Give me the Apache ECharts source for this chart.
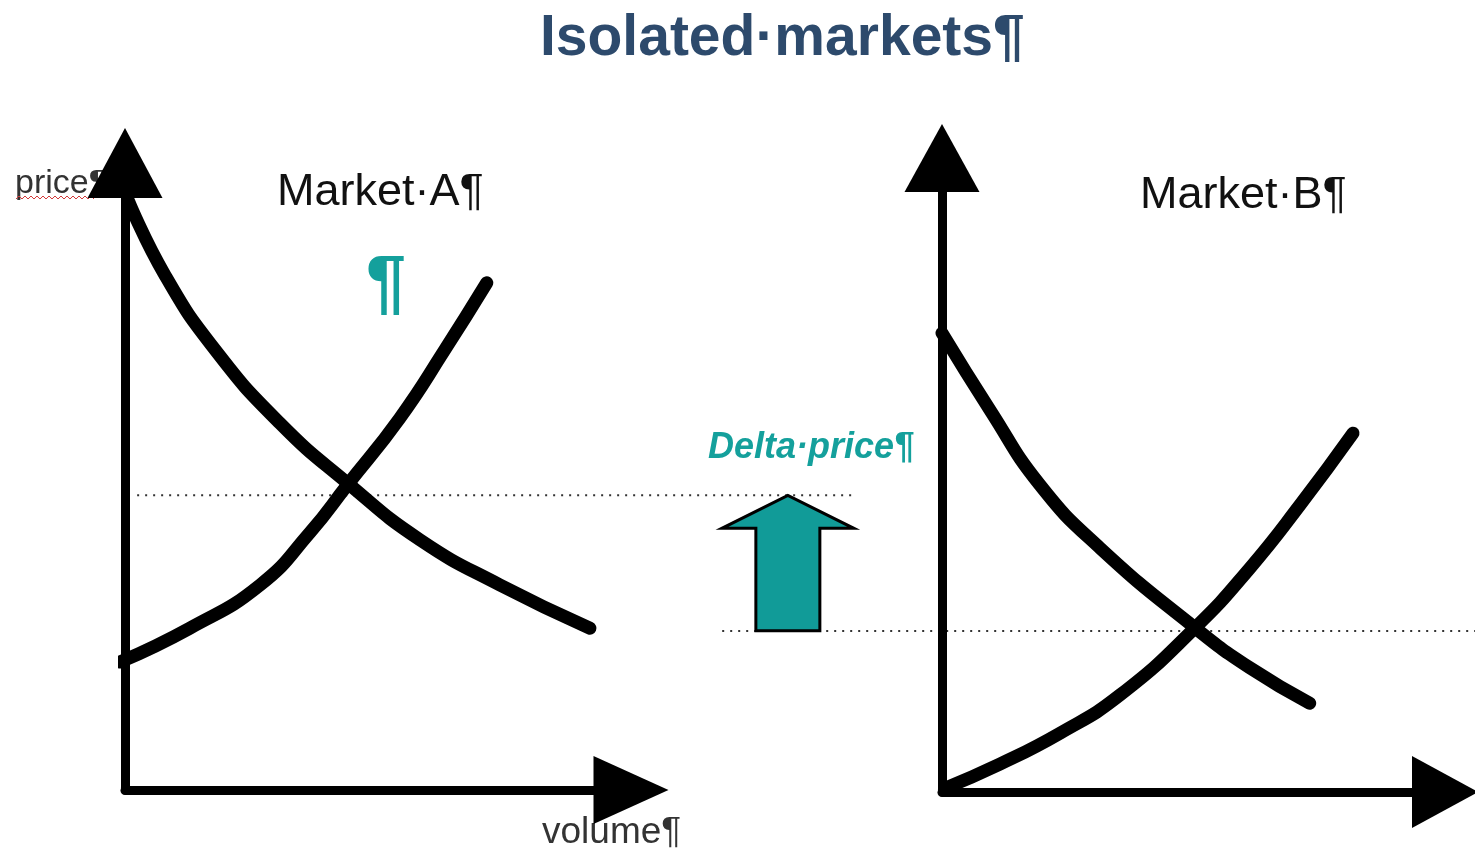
<!DOCTYPE html>
<html>
<head>
<meta charset="utf-8">
<script src="https://cdn.jsdelivr.net/npm/echarts@6/dist/echarts.min.js"></script>
<style>
   html, body { margin: 0; padding: 0; background: #fff; }
   #chart { width: 1475px; height: 853px; }
</style>
</head>
<body>
<div id="chart"></div>
<script>
// volume / price pairs, each market on its own 0..100 scale
let demandA = [[0.6, 94.1], [7.9, 82.1], [17.8, 70.2], [30.6, 58.5], [43.9, 49.0], [58.3, 39.9], [74.1, 32.7], [91.9, 25.8]];
let supplyA = [[-1.0, 20.4], [12.8, 25.8], [26.7, 32.7], [36.6, 41.1], [43.9, 48.6], [54.3, 59.3], [63.2, 70.2], [71.5, 80.9]];
let demandB = [[0, 72.4], [9.5, 60.3], [19.5, 48.4], [31.4, 38.5], [50.3, 25.9], [61.2, 19.6], [73.1, 14.0]];
let supplyB = [[0.6, 0.6], [11.5, 4.4], [23.5, 9.3], [35.4, 15.3], [50.3, 25.9], [61.2, 35.3], [71.2, 45.3], [81.7, 56.6]];
// equilibrium price guides: [from volume, to volume, price]
let priceLineA = [[2.4, 144.3, 47.0]];
let priceLineB = [[-43.7, 106.0, 25.4]];
// delta price arrow: [volume, from price, to price] in market A units
let deltaArrow = [[131.0, 25.4, 47.0]];

let teal = "#14a09c";

function axisStyle(size) {
   return {
      type: "value",
      min: 0,
      max: 100,
      z: 10,
      axisLine: {
         show: true,
         onZero: false,
         symbol: ["none", "triangle"],
         symbolSize: size,
         lineStyle: { color: "#000", width: 9 }
      },
      axisTick: { show: false },
      axisLabel: { show: false },
      splitLine: { show: false }
   };
}

function curve(data, xi) {
   return {
      type: "line",
      xAxisIndex: xi,
      yAxisIndex: xi,
      data: data,
      smooth: 0.5,
      showSymbol: false,
      silent: true,
      clip: false,
      lineStyle: { color: "#000", width: 13, cap: "round", join: "round" },
      z: 3
   };
}

function guide(data, xi) {
   return {
      type: "custom",
      xAxisIndex: xi,
      yAxisIndex: xi,
      data: data,
      clip: false,
      silent: true,
      z: 1,
      renderItem: function(params, api) {
         let p1 = api.coord([api.value(0), api.value(2)]);
         let p2 = api.coord([api.value(1), api.value(2)]);
         return {
            type: "line",
            shape: { x1: p1[0], y1: p1[1], x2: p2[0], y2: p2[1] },
            style: { stroke: "#333", lineWidth: 2, lineDash: [2, 6] }
         };
      }
   };
}

// spell-check squiggle under "price"
let squiggle = [];
for (let i = 0; i <= 26; i++) {
   squiggle.push([16 + i * 3, i % 2 ? 196 : 199]);
}

let myChart = echarts.init(document.getElementById("chart"));
let option = {
   animation: false,
   backgroundColor: "#fff",
   grid: [
      { left: 125, top: 163, width: 506, height: 627 },
      { left: 942, top: 158, width: 503, height: 634 }
   ],
   xAxis: [axisStyle([68, 75]), Object.assign(axisStyle([72, 66]), { gridIndex: 1 })],
   yAxis: [axisStyle([75, 70]), Object.assign(axisStyle([75, 68]), { gridIndex: 1 })],
   graphic: [
      {
         type: "text", left: 540, top: 11, z: -1,
         style: { text: "Isolated·markets¶", font: "bold 57px 'Liberation Sans', Arial, sans-serif", fill: "#2d4a6c" }
      },
      {
         type: "text", left: 277, top: 170, z: -1,
         style: { text: "Market·A¶", font: "45px 'Liberation Sans', Arial, sans-serif", fill: "#111" }
      },
      {
         type: "text", left: 1140, top: 173, z: -1,
         style: { text: "Market·B¶", font: "45px 'Liberation Sans', Arial, sans-serif", fill: "#111" }
      },
      {
         type: "text", left: 366, top: 250, z: -1,
         style: { text: "¶", font: "bold 72px 'Liberation Sans', Arial, sans-serif", fill: teal }
      },
      {
         type: "text", left: 15, top: 167, z: -1,
         style: { text: "price¶", font: "34px 'Liberation Sans', Arial, sans-serif", fill: "#333" }
      },
      {
         type: "polyline", z: -1,
         shape: { points: squiggle },
         style: { stroke: "#d23a3a", lineWidth: 1, fill: null }
      },
      {
         type: "text", left: 542, top: 814, z: -1,
         style: { text: "volume¶", font: "37px 'Liberation Sans', Arial, sans-serif", fill: "#333" }
      },
      {
         type: "text", left: 708, top: 430, z: -1,
         style: { text: "Delta·price¶", font: "italic bold 36px 'Liberation Sans', Arial, sans-serif", fill: teal }
      }
   ],
   series: [
      guide(priceLineA, 0),
      guide(priceLineB, 1),
      curve(demandA, 0),
      curve(supplyA, 0),
      curve(demandB, 1),
      curve(supplyB, 1),
      {
         type: "custom",
         xAxisIndex: 0,
         yAxisIndex: 0,
         clip: false,
         silent: true,
         data: deltaArrow,
         z: 4,
         renderItem: function(params, api) {
            let base = api.coord([api.value(0), api.value(1)]);
            let tip = api.coord([api.value(0), api.value(2)]);
            let cx = base[0];
            let shaft = 32, head = 66, headH = 33;
            let hy = tip[1] + headH;
            return {
               type: "polygon",
               shape: {
                  points: [
                     [cx - shaft, base[1]], [cx - shaft, hy], [cx - head, hy], [cx, tip[1]],
                     [cx + head, hy], [cx + shaft, hy], [cx + shaft, base[1]]
                  ]
               },
               style: { fill: "#119b98", stroke: "#000", lineWidth: 3 }
            };
         }
      }
   ]
};
myChart.setOption(option);
</script>
</body>
</html>
